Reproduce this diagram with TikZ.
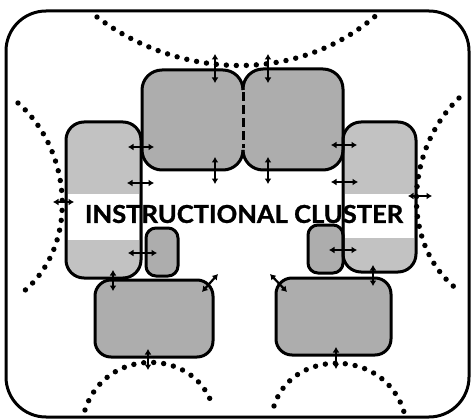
\documentclass[tikz,border=0pt]{standalone}
\usepackage{fontspec}
\setmainfont{Lato}
\newfontfamily\titlefont[FakeBold=1.2]{Lato}
\usetikzlibrary{arrows.meta}

\tikzset{
  shade/.style={fill=black!32},
  lightshade/.style={fill=black!24},
  boxline/.style={line width=3pt, line join=round},
  dotline/.style={line width=5.4pt, line cap=round, dash pattern=on 0pt off 10pt},
  dbl/.style={{Latex[length=5.5pt,width=7pt]}-{Latex[length=5.5pt,width=7pt]}, line width=2.2pt},
}

\begin{document}
\begin{tikzpicture}[x=1pt,y=-1pt]
\useasboundingbox (0,0) rectangle (472,420);

% outer frame
\draw[line width=3pt, rounded corners=40pt] (6,11) rectangle (469,417);

% room fills
\fill[lightshade, rounded corners=18pt] (66,122) rectangle (141,278);   % left wing
\fill[lightshade, rounded corners=18pt] (343,122) rectangle (416,272);  % right wing
\fill[shade, rounded corners=20pt] (142,70) rectangle (243,170);   % upper left
\fill[shade, rounded corners=20pt] (243,69) rectangle (343,170);   % upper right
\fill[shade, rounded corners=10pt] (146,228) rectangle (178,276);  % small left
\fill[shade, rounded corners=10pt] (308,225) rectangle (343,273);  % small right
\fill[shade, rounded corners=16pt] (95,280) rectangle (213,357);   % lower left
\fill[shade, rounded corners=16pt] (276,278) rectangle (391,355);  % lower right

% clear band behind the title
\fill[white] (68,194) rectangle (139,240);
\fill[white] (345,194) rectangle (414,238);

% title
\node[inner sep=0pt] (title) at (244,214)
  {\resizebox{318pt}{18pt}{\titlefont\bfseries INSTRUCTIONAL CLUSTER}};

% room outlines
\draw[boxline, rounded corners=18pt] (66,122) rectangle (141,278);
\draw[boxline, rounded corners=18pt] (343,122) rectangle (416,272);
\draw[boxline, rounded corners=20pt] (243,90) -- (243,70) -- (142,70) -- (142,170) -- (243,170) -- (243,150);
\draw[boxline, rounded corners=20pt] (243,90) -- (243,69) -- (343,69) -- (343,170) -- (243,170) -- (243,150);
\draw[line width=3pt, dash pattern=on 9pt off 4pt] (243,92) -- (243,148);
\draw[boxline, rounded corners=10pt] (146,228) rectangle (178,276);
\draw[boxline, rounded corners=10pt] (308,225) rectangle (343,273);
\draw[boxline, rounded corners=16pt] (95,280) rectangle (213,357);
\draw[boxline, rounded corners=16pt] (276,278) rectangle (391,355);

% dotted boundaries
\draw[dotline] (97,17) .. controls (180,80) and (300,85) .. (380,12);
\draw[dotline] (18,103) .. controls (72,150) and (80,245) .. (23,292);
\draw[dotline] (459,98) .. controls (405,150) and (400,245) .. (458,290);
\draw[dotline] (85,410) .. controls (105,347) and (195,347) .. (213,407);
\draw[dotline] (274,406) .. controls (292,348) and (385,348) .. (404,412);

% exchange arrows
\draw[dbl] (215,54) -- (215,83);
\draw[dbl] (268,54) -- (268,83);
\draw[dbl] (128,147) -- (154,147);
\draw[dbl] (127,183) -- (154,183);
\draw[dbl] (215,157) -- (215,184);
\draw[dbl] (268,157) -- (268,184);
\draw[dbl] (331,145) -- (357,145);
\draw[dbl] (331,182) -- (358,182);
\draw[dbl] (53,202) -- (74,202);
\draw[dbl] (408,196) -- (432,196);
\draw[dbl] (128,253) -- (157,253);
\draw[dbl] (329,250) -- (357,250);
\draw[dbl] (113,270) -- (113,291);
\draw[dbl] (202,292) -- (218,274);
\draw[dbl] (270,274) -- (287,292);
\draw[dbl] (373,265) -- (373,286);
\draw[dbl] (148,349) -- (148,370);
\draw[dbl] (336,347) -- (336,369);
\end{tikzpicture}
\end{document}
